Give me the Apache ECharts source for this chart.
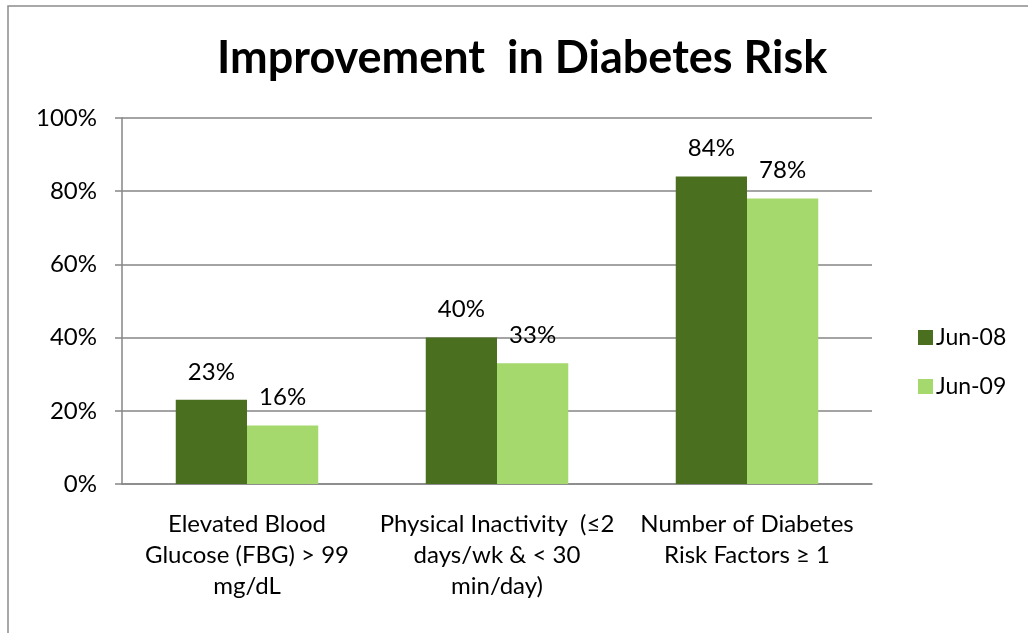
<!DOCTYPE html>
<html><head><meta charset="utf-8">
<script src="https://cdn.jsdelivr.net/npm/echarts@6/dist/echarts.min.js"></script>
<style>html,body{margin:0;padding:0;background:#fff}#c{width:1028px;height:633px}</style>
</head><body><div id="c"></div>
<script>
const categories = ["Elevated Blood\nGlucose (FBG) > 99\nmg/dL", "Physical Inactivity  (≤2\ndays/wk & < 30\nmin/day)", "Number of Diabetes\nRisk Factors ≥ 1"];
const seriesNames = ["Jun-08", "Jun-09"];
const jun08 = [23, 40, 84];
const jun09 = [16, 33, 78];
const yTicks = [0, 20, 40, 60, 80, 100];

const FONT = 'Lato, "Open Sans", sans-serif';
const chart = echarts.init(document.getElementById('c'), null, {renderer: 'canvas'});
chart.setOption({
  animation: false,
  backgroundColor: '#fff',
  graphic: [{type: 'rect', shape: {x: 8, y: 6, width: 1040, height: 660}, style: {fill: 'none', stroke: '#8c8c8c', lineWidth: 1.5}}],
  title: {text: 'Improvement  in Diabetes Risk', left: 212, top: 31, textStyle: {fontFamily: FONT, fontWeight: 'bold', fontSize: 45, color: '#000'}},
  legend: {orient: 'vertical', left: 913, top: 321, itemWidth: 15, itemHeight: 15, itemGap: 26, icon: 'rect',
    textStyle: {fontFamily: FONT, fontSize: 23, color: '#000', padding: [0, 0, 0, -2]}, data: seriesNames},
  grid: {left: 122, right: 156, top: 118, bottom: 149},
  xAxis: {type: 'category', data: categories,
    axisLine: {lineStyle: {color: '#868686', width: 1.5}},
    axisTick: {length: 7, lineStyle: {color: '#868686', width: 1.5}},
    axisLabel: {fontFamily: FONT, fontSize: 24, color: '#000', lineHeight: 31, margin: 25, interval: 0}},
  yAxis: {type: 'value', min: 0, max: 100, interval: 20,
    axisLine: {show: true, lineStyle: {color: '#868686', width: 1.5}},
    axisTick: {show: true, length: 7, lineStyle: {color: '#868686', width: 1.5}},
    splitLine: {lineStyle: {color: '#868686', width: 1.5}},
    axisLabel: {fontFamily: FONT, fontSize: 24, color: '#000', margin: 25,
      formatter: v => yTicks.includes(v) ? v + '%' : ''}},
  series: [
    {name: seriesNames[0], type: 'bar', data: jun08, barGap: '0%', barCategoryGap: '43%',
     itemStyle: {color: '#4a6f1f'},
     label: {show: true, position: 'top', distance: 16, formatter: '{c}%', fontFamily: FONT, fontSize: 24, color: '#000'}},
    {name: seriesNames[1], type: 'bar', data: jun09, barGap: '0%', barCategoryGap: '43%',
     itemStyle: {color: '#a5d86d'},
     label: {show: true, position: 'top', distance: 16, formatter: '{c}%', fontFamily: FONT, fontSize: 24, color: '#000'}}
  ]
});
</script></body></html>
